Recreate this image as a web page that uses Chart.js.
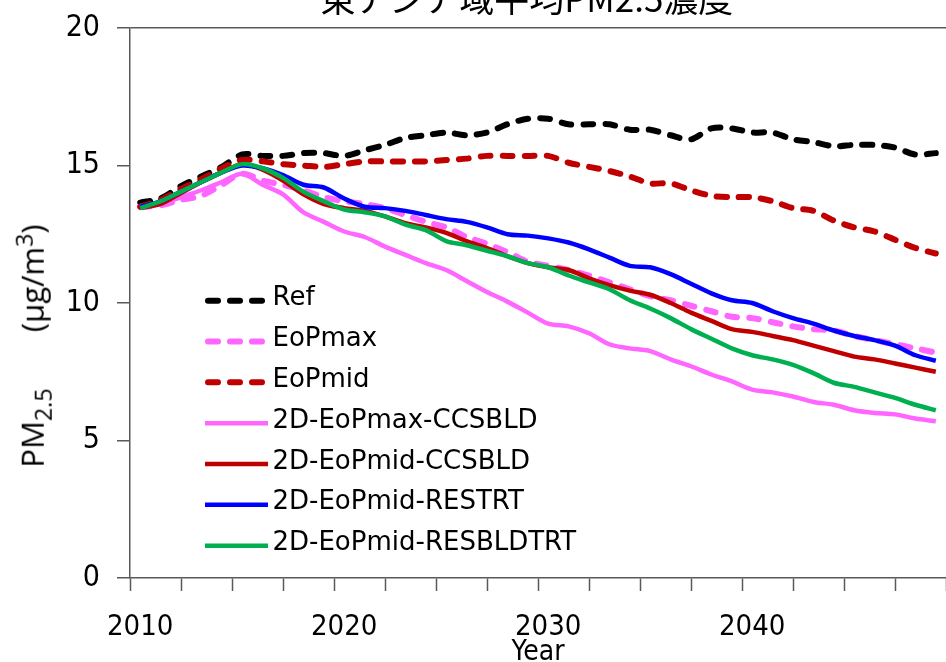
<!DOCTYPE html>
<html>
<head>
<meta charset="utf-8">
<script src="https://cdn.jsdelivr.net/npm/chart.js@4.4.0/dist/chart.umd.min.js"></script>
<style>
  html, body { margin: 0; padding: 0; background: #fff; width: 946px; height: 662px; overflow: hidden; }
  #wrap { position: relative; width: 946px; height: 662px; overflow: hidden; }
  #chart { position: absolute; left: 0; top: 0; }
  #title { position: absolute; top: -21px; left: 0; width: 1054px; text-align: center;
           font-size: 35px; line-height: 35px; font-family: "Noto Sans CJK JP"; white-space: nowrap; }
  #ytitle { position: absolute; left: 33px; top: 346px; transform: translate(-50%, -50%) rotate(-90deg);
            font-size: 31px; font-family: "Open Sans"; white-space: nowrap; color: #000; }
  #ytitle sub, #ytitle sup { font-size: 0.75em; }
</style>
</head>
<body>
<div id="wrap">
  <canvas id="chart" width="946" height="680"></canvas>
  <div id="title">東アジア域平均PM2.5濃度</div>
  <div id="ytitle">PM<sub>2.5</sub>&nbsp;&nbsp;&nbsp;&nbsp;&nbsp;&nbsp;&nbsp;(μg/m<sup>3</sup>)</div>
</div>
<script>
// 年
const years = [2010, 2011, 2012, 2013, 2014, 2015, 2016, 2017, 2018, 2019,
               2020, 2021, 2022, 2023, 2024, 2025, 2026, 2027, 2028, 2029,
               2030, 2031, 2032, 2033, 2034, 2035, 2036, 2037, 2038, 2039,
               2040, 2041, 2042, 2043, 2044, 2045, 2046, 2047, 2048, 2049];

// 系列の値 (μg/m3)
const ref = [13.65, 13.8, 14.25, 14.6, 14.95, 15.4, 15.35, 15.35, 15.45, 15.45,
             15.35, 15.55, 15.75, 16.0, 16.1, 16.2, 16.1, 16.2, 16.5, 16.7,
             16.7, 16.5, 16.5, 16.5, 16.3, 16.3, 16.1, 15.95, 16.35, 16.35,
             16.2, 16.2, 15.95, 15.85, 15.7, 15.75, 15.75, 15.65, 15.4, 15.45];
const eopMax = [13.5, 13.55, 13.75, 13.9, 14.3, 14.7, 14.45, 14.3, 14.1, 13.85,
                13.7, 13.6, 13.45, 13.2, 12.95, 12.75, 12.4, 12.15, 11.85, 11.5,
                11.35, 11.2, 11.0, 10.75, 10.5, 10.25, 10.1, 9.9, 9.7, 9.5,
                9.45, 9.3, 9.15, 9.05, 9.0, 8.8, 8.65, 8.5, 8.35, 8.2];
const eopMid = [13.5, 13.75, 14.15, 14.5, 14.9, 15.2, 15.15, 15.05, 15.0, 14.95,
                15.05, 15.15, 15.15, 15.15, 15.15, 15.2, 15.25, 15.35, 15.35, 15.35,
                15.35, 15.1, 14.95, 14.8, 14.6, 14.35, 14.35, 14.1, 13.9, 13.85,
                13.85, 13.7, 13.45, 13.35, 13.0, 12.75, 12.6, 12.3, 12.0, 11.8];
const maxCcsbld = [13.5, 13.6, 13.85, 14.1, 14.4, 14.7, 14.3, 13.95, 13.3, 12.95,
                   12.6, 12.4, 12.05, 11.75, 11.45, 11.2, 10.8, 10.4, 10.05, 9.65,
                   9.25, 9.15, 8.9, 8.5, 8.35, 8.25, 7.95, 7.7, 7.4, 7.15,
                   6.85, 6.75, 6.6, 6.4, 6.3, 6.1, 6.0, 5.95, 5.8, 5.7];
const midCcsbld = [13.45, 13.6, 14.0, 14.4, 14.75, 15.05, 14.85, 14.45, 13.95, 13.6,
                   13.45, 13.35, 13.15, 12.9, 12.75, 12.55, 12.25, 12.0, 11.7, 11.45,
                   11.3, 11.2, 10.9, 10.65, 10.45, 10.3, 10.0, 9.65, 9.35, 9.05,
                   8.95, 8.8, 8.65, 8.45, 8.25, 8.05, 7.95, 7.8, 7.65, 7.5];
const midRestrt = [13.5, 13.7, 14.05, 14.4, 14.75, 15.0, 14.9, 14.65, 14.3, 14.2,
                   13.8, 13.5, 13.45, 13.35, 13.2, 13.05, 12.95, 12.75, 12.5, 12.45,
                   12.35, 12.2, 11.95, 11.65, 11.35, 11.3, 11.05, 10.7, 10.35, 10.1,
                   10.0, 9.7, 9.45, 9.25, 9.0, 8.8, 8.65, 8.45, 8.1, 7.9];
const midResbldtrt = [13.45, 13.7, 14.05, 14.4, 14.75, 15.05, 14.9, 14.55, 14.05, 13.7,
                      13.4, 13.3, 13.15, 12.85, 12.65, 12.25, 12.1, 11.9, 11.7, 11.45,
                      11.3, 11.0, 10.75, 10.5, 10.1, 9.8, 9.45, 9.05, 8.7, 8.35,
                      8.1, 7.95, 7.75, 7.45, 7.1, 6.95, 6.75, 6.55, 6.3, 6.1];

const seriesNames = ['Ref', 'EoPmax', 'EoPmid', '2D-EoPmax-CCSBLD',
                     '2D-EoPmid-CCSBLD', '2D-EoPmid-RESTRT', '2D-EoPmid-RESBLDTRT'];
const seriesValues = [ref, eopMax, eopMid, maxCcsbld, midCcsbld, midRestrt, midResbldtrt];
const seriesColors = ['#000000', '#ff66ff', '#c00000', '#ff66ff', '#c00000', '#0000ff', '#00b050'];
const seriesDashed = [true, true, true, false, false, false, false];

// 目盛りラベル
const xTickLabels = ['2010', '2020', '2030', '2040'];
const yTickValues = [0, 5, 10, 15, 20];

const axisGray = '#595959';

const datasets = seriesNames.map((name, i) => ({
  label: name,
  data: years.map((yr, j) => ({ x: yr, y: seriesValues[i][j] })),
  borderColor: seriesColors[i],
  borderWidth: seriesDashed[i] ? 6 : 4.5,
  borderDash: seriesDashed[i] ? [10, 12] : undefined,
  borderCapStyle: seriesDashed[i] ? 'round' : 'butt',
  borderJoinStyle: 'round',
  tension: 0.3,
  pointRadius: 0,
  fill: false,
  order: seriesNames.length - i   // 後の系列を上に描く
}));

// 凡例をプロット内に描く
const legendInPlot = {
  id: 'legendInPlot',
  afterDatasetsDraw(chart) {
    const ctx = chart.ctx;
    ctx.save();
    ctx.font = '26px "DejaVu Sans"';
    ctx.textBaseline = 'alphabetic';
    ctx.fillStyle = '#000';
    chart.data.datasets.forEach((ds, i) => {
      const y = 300.7 + i * 40.83;
      ctx.beginPath();
      ctx.lineWidth = ds.borderWidth;
      ctx.strokeStyle = ds.borderColor;
      ctx.setLineDash(ds.borderDash || []);
      ctx.lineCap = ds.borderDash ? 'round' : 'butt';
      if (ds.borderDash) {
        ctx.moveTo(208, y); ctx.lineTo(264, y);
      } else {
        ctx.moveTo(205, y); ctx.lineTo(268, y);
      }
      ctx.stroke();
      ctx.setLineDash([]);
      ctx.fillText(ds.label, 272.5, y + 4.6);
    });
    ctx.restore();
  }
};

new Chart(document.getElementById('chart'), {
  type: 'line',
  data: { datasets: datasets },
  options: {
    responsive: false,
    animation: false,
    devicePixelRatio: 1,
    layout: { padding: { top: 28, left: 0, right: 0, bottom: 0 } },
    plugins: {
      legend: { display: false },
      tooltip: { enabled: false },
      title: { display: false }
    },
    scales: {
      x: {
        type: 'linear',
        min: 2009.5,
        max: 2049.5,
        afterFit: (scale) => {
          scale.height = 680 - 578;
          scale.paddingLeft = 0;
          scale.paddingRight = 0;
        },
        grid: {
          drawOnChartArea: false,
          drawTicks: true,
          tickLength: 13,
          tickColor: axisGray,
          tickWidth: 1.5
        },
        border: { display: true, color: axisGray, width: 1.5 },
        ticks: {
          stepSize: 2.5,
          autoSkip: false,
          maxRotation: 0,
          padding: 19,
          labelOffset: 10.2,
          color: '#000',
          font: { family: '"DejaVu Sans Condensed", "DejaVu Sans"', size: 29 },
          callback: (v) => {
            const lbl = String(Math.round(v + 0.5));
            return xTickLabels.includes(lbl) && Math.abs(v + 0.5 - Math.round(v + 0.5)) < 1e-6 ? lbl : '';
          }
        },
        title: {
          display: true,
          text: 'Year',
          color: '#000',
          font: { family: '"DejaVu Sans Condensed", "DejaVu Sans"', size: 28 },
          padding: { top: 0, bottom: 10 }
        }
      },
      y: {
        min: 0,
        max: 20,
        afterFit: (scale) => {
          scale.width = 130;
          scale.paddingTop = 0;
          scale.paddingBottom = 0;
        },
        afterBuildTicks: (scale) => { scale.ticks = yTickValues.map(v => ({ value: v })); },
        grid: {
          color: (c) => (c.tick && c.tick.value === 20 ? axisGray : 'rgba(0,0,0,0)'),
          lineWidth: 1.5,
          drawTicks: true,
          tickLength: 13,
          tickColor: axisGray,
          tickWidth: 1.5
        },
        border: { display: true, color: axisGray, width: 1.5 },
        ticks: {
          padding: 17,
          color: '#000',
          font: { family: '"DejaVu Sans Condensed", "DejaVu Sans"', size: 30 }
        },
        title: { display: false }
      }
    }
  },
  plugins: [legendInPlot]
});
</script>
</body>
</html>
